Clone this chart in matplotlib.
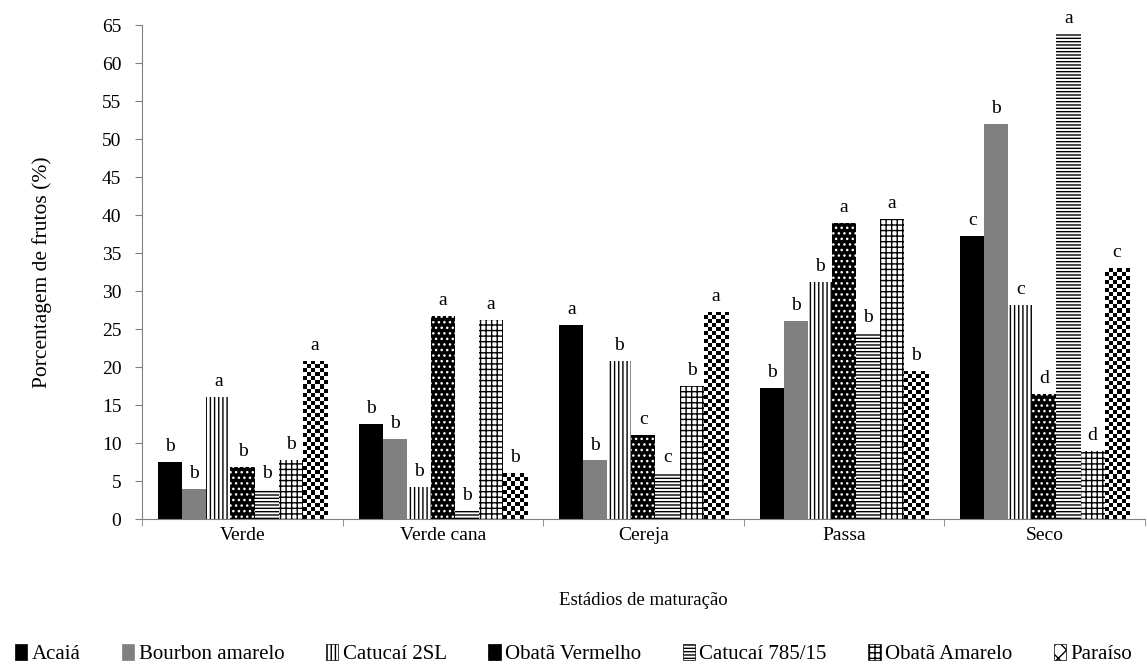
import numpy as np
import matplotlib
matplotlib.use("Agg")
import matplotlib.pyplot as plt
from matplotlib.patches import Patch

plt.rcParams["font.family"] = ["Liberation Serif", "DejaVu Serif"]
plt.rcParams["hatch.linewidth"] = 1.0

stages = ["Verde", "Verde cana", "Cereja", "Passa", "Seco"]
cultivars = ["Acaiá", "Bourbon amarelo", "Catucaí 2SL", "Obatã Vermelho",
             "Catucaí 785/15", "Obatã Amarelo", "Paraíso"]

acaia = [7.5, 12.5, 25.5, 17.3, 37.3]
bourbon = [4.0, 10.5, 7.7, 26.0, 52.0]
catucai_2sl = [16.0, 4.2, 20.8, 31.2, 28.2]
obata_verm = [6.8, 26.7, 11.0, 39.0, 16.5]
catucai_785 = [4.0, 1.0, 6.0, 24.5, 63.8]
obata_amar = [7.8, 26.2, 17.5, 39.5, 9.0]
paraiso = [20.8, 6.0, 27.3, 19.5, 33.0]
series = [acaia, bourbon, catucai_2sl, obata_verm, catucai_785, obata_amar, paraiso]

letters = [
    ["b", "b", "a", "b", "c"],
    ["b", "b", "b", "b", "b"],
    ["a", "b", "b", "b", "c"],
    ["b", "a", "c", "a", "d"],
    ["b", "b", "c", "b", "a"],
    ["b", "a", "b", "a", "d"],
    ["a", "b", "a", "b", "c"],
]

# face, hatch, edge
styles = [
    ("black", None, "black"),
    ("#808080", None, "#808080"),
    ("white", "||||", "black"),
    ("black", "...", "white"),
    ("white", "-----", "black"),
    ("white", "+++", "black"),
    ("white", "xx", "black"),
]

fig = plt.figure(figsize=(11.47, 6.71), dpi=100)
ax = fig.add_axes([0.124, 0.2265, 0.874, 0.7362])

x = np.arange(len(stages))
width = 0.12
offsets = (np.arange(len(cultivars)) - 3) * width

for i, (vals, (fc, hatch, ec)) in enumerate(zip(series, styles)):
    bars = ax.bar(x + offsets[i], vals, width, facecolor=fc, edgecolor=ec,
                  hatch=hatch, linewidth=0, label=cultivars[i])
    for b, lab in zip(bars, letters[i]):
        ax.annotate(lab, (b.get_x() + b.get_width() / 2, b.get_height()),
                    xytext=(0, 5), textcoords="offset points",
                    ha="center", va="bottom", fontsize=14, annotation_clip=False)
    if i == 6:
        # checkerboard fill for Paraíso
        for b in bars:
            h = b.get_height()
            ny = max(1, int(round(h / 0.53)))
            nx = 6
            board = np.indices((ny, nx)).sum(axis=0) % 2
            im = ax.imshow(board, cmap="gray", interpolation="nearest",
                           extent=(b.get_x(), b.get_x() + b.get_width(), 0, h),
                           aspect="auto", origin="lower", zorder=2)
            im.set_clip_path(b)

ax.set_xlim(-0.5, 4.5)
ax.set_ylim(0, 65)
ax.set_yticks(np.arange(0, 66, 5))
ax.set_xticks(x)
ax.set_xticklabels(stages, fontsize=14)
ax.set_xticks(np.arange(-0.5, 4.6, 1), minor=True)
ax.tick_params(axis="x", which="major", length=0, pad=6)
ax.tick_params(axis="x", which="minor", length=5, color="#808080")
ax.tick_params(axis="y", length=5, color="#808080", labelsize=14, pad=10)

for s in ["top", "right"]:
    ax.spines[s].set_visible(False)
for s in ["left", "bottom"]:
    ax.spines[s].set_color("#808080")

ax.set_ylabel("Porcentagem de frutos (%)", fontsize=15.5, labelpad=36)
ax.set_xlabel("Estádios de maturação", fontsize=13.5, labelpad=34)

handles = [Patch(facecolor=fc, edgecolor=("black" if ec == "white" else ec),
                 hatch=h, linewidth=0.5, label=c)
           for (fc, h, ec), c in zip(styles, cultivars)]
fig.legend(handles=handles, loc="lower center", ncol=7, frameon=False,
           fontsize=15, handlelength=0.6, handleheight=0.8, handletextpad=0.2,
           columnspacing=2.0, bbox_to_anchor=(0.5, -0.018))

fig.savefig("out.png", dpi=100)
